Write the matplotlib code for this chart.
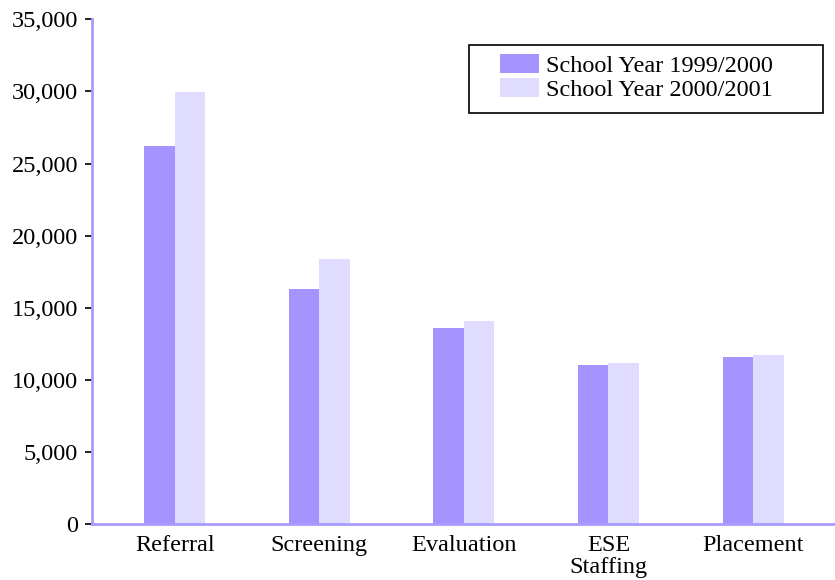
import numpy as np
import matplotlib
matplotlib.use("Agg")
import matplotlib.pyplot as plt
from matplotlib.ticker import FuncFormatter
from matplotlib.patches import Rectangle

categories = ["Referral", "Screening", "Evaluation", "ESE\nStaffing", "Placement"]
year_1999 = [26200, 16300, 13600, 11000, 11550]
year_2000 = [29950, 18350, 14050, 11200, 11750]
series_names = ["School Year 1999/2000", "School Year 2000/2001"]

plt.rcParams['font.family'] = ['Liberation Serif', 'DejaVu Serif']
fs = 17.5

fig = plt.figure(figsize=(8.35, 5.8), dpi=100)
ax = fig.add_axes([0.110, 0.0966, 0.890, 0.870])

x = np.arange(len(categories))
w = 0.211
ax.bar(x - w / 2, year_1999, w, color="#a593ff", label=series_names[0])
ax.bar(x + w / 2, year_2000, w, color="#e0dcff", label=series_names[1])

ax.set_xlim(-0.574, 4.567)
ax.set_ylim(0, 35000)
ax.set_yticks(range(0, 35001, 5000))
ax.yaxis.set_major_formatter(FuncFormatter(lambda v, p: f"{int(v):,}"))
ax.set_xticks(x)
ax.set_xticklabels(categories, fontsize=fs, linespacing=1.05)
ax.tick_params(axis='y', labelsize=fs, length=5, width=1.2, color='black', pad=5)
ax.tick_params(axis='x', length=0, pad=8)

for s in ['top', 'right']:
    ax.spines[s].set_visible(False)
for s in ['left', 'bottom']:
    ax.spines[s].set_color('#a89bff')
    ax.spines[s].set_linewidth(2)

# legend frame drawn separately (wide padding like the original)
ax.add_patch(Rectangle((0.5074, 0.8139), 0.4764, 0.1346, transform=ax.transAxes,
                       facecolor='white', edgecolor='black', linewidth=1.2,
                       clip_on=False, zorder=4))
leg = ax.legend(loc='upper left', bbox_to_anchor=(0.549, 0.932), fontsize=fs,
                frameon=False, handlelength=1.6, handleheight=0.82,
                handletextpad=0.3, labelspacing=0.06, borderpad=0,
                borderaxespad=0)
leg.set_zorder(5)

fig.savefig("out.png", dpi=100)
